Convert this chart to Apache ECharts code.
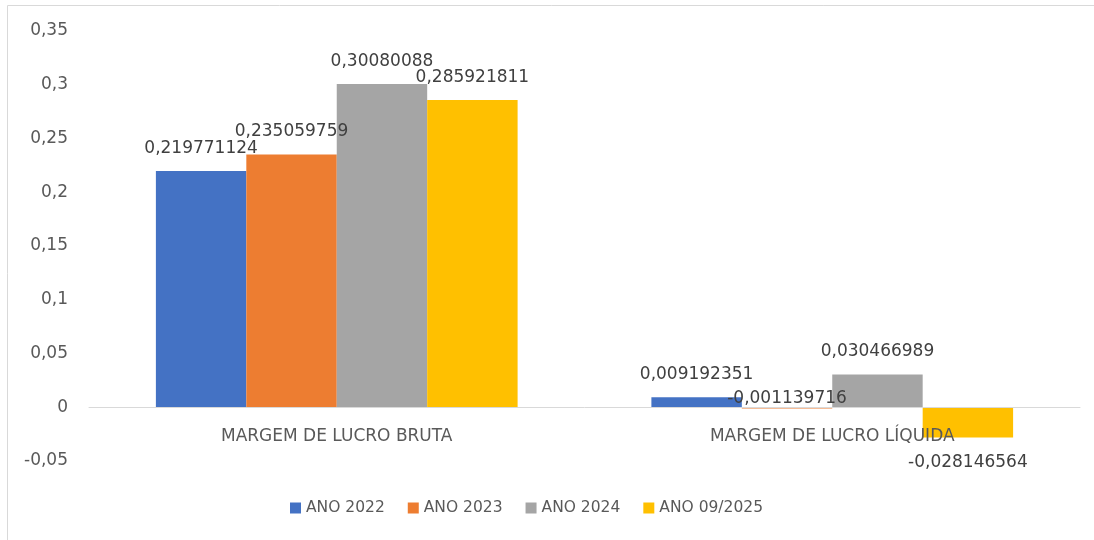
<!DOCTYPE html>
<html>
<head>
<meta charset="utf-8">
<script src="https://cdn.jsdelivr.net/npm/echarts@6/dist/echarts.min.js"></script>
<style>
  html, body { margin: 0; padding: 0; background: #fff; }
  #chart { width: 1094px; height: 540px; }
</style>
</head>
<body>
<div id="chart"></div>
<script>
const categories = ["MARGEM DE LUCRO BRUTA", "MARGEM DE LUCRO LÍQUIDA"];
const seriesNames = ["ANO 2022", "ANO 2023", "ANO 2024", "ANO 09/2025"];
const ano2022 = [0.219771124, 0.009192351];
const ano2023 = [0.235059759, -0.001139716];
const ano2024 = [0.30080088, 0.030466989];
const ano092025 = [0.285921811, -0.028146564];
const colors = ["#4472C4", "#ED7D31", "#A5A5A5", "#FFC000"];

const font = "DejaVu Sans";
const fmt = v => String(v).replace(".", ",");

function makeSeries(name, values, color) {
  return {
    name: name,
    type: "bar",
    barGap: "0%",
    barCategoryGap: "27%",
    itemStyle: { color: color },
    label: {
      show: true,
      position: "top",
      distance: 14,
      color: "#404040",
      fontFamily: font,
      fontSize: 17,
      formatter: p => fmt(p.value)
    },
    // negative values: big ones get the label under the bar, tiny ones sit on the zero line
    data: values.map(v => {
      if (v < -0.01) return { value: v, label: { position: "bottom", distance: 17 } };
      if (v < 0) return { value: v, label: { distance: 0 } };
      return v;
    })
  };
}

const chart = echarts.init(document.getElementById("chart"));
chart.setOption({
  animation: false,
  textStyle: { fontFamily: font },
  color: colors,
  graphic: [{
    type: "rect",
    shape: { x: 7.5, y: 5.5, width: 1200, height: 600 },
    style: { fill: "none", stroke: "#d9d9d9", lineWidth: 1 },
    silent: true
  }],
  grid: { left: 89, right: 14, top: 31, bottom: 79 },
  legend: {
    bottom: 19,
    left: 285,
    itemWidth: 11,
    itemHeight: 11,
    itemGap: 23,
    icon: "rect",
    textStyle: { color: "#595959", fontFamily: font, fontSize: 15.5 },
    data: seriesNames
  },
  xAxis: {
    type: "category",
    z: 5,
    data: categories,
    axisLine: { onZero: true, lineStyle: { color: "#d9d9d9", width: 1 } },
    axisTick: { show: false },
    // labels stay at the grid bottom, pull them up under the zero line
    axisLabel: { color: "#595959", fontFamily: font, fontSize: 17, margin: -33 }
  },
  yAxis: {
    type: "value",
    min: -0.05,
    max: 0.35,
    interval: 0.05,
    splitLine: { show: false },
    axisLine: { show: false },
    axisTick: { show: false },
    axisLabel: {
      color: "#595959",
      fontFamily: font,
      fontSize: 17,
      margin: 21,
      formatter: v => fmt(Math.round(v * 100) / 100)
    }
  },
  series: [
    makeSeries(seriesNames[0], ano2022, colors[0]),
    makeSeries(seriesNames[1], ano2023, colors[1]),
    makeSeries(seriesNames[2], ano2024, colors[2]),
    makeSeries(seriesNames[3], ano092025, colors[3])
  ]
});
</script>
</body>
</html>
